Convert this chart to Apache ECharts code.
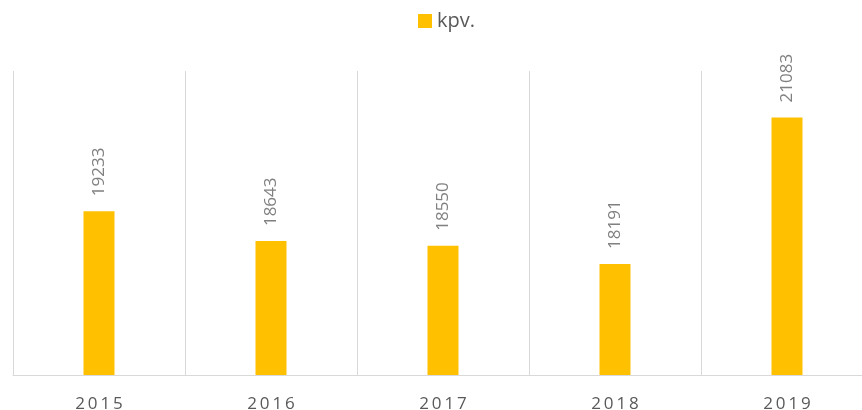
<!DOCTYPE html>
<html>
<head>
<meta charset="utf-8">
<script src="https://cdn.jsdelivr.net/npm/echarts@6/dist/echarts.min.js"></script>
<style>html,body{margin:0;padding:0;background:#fff;}#c{width:862px;height:410px;}</style>
</head>
<body>
<div id="c"></div>
<script>
const categories = ['2015', '2016', '2017', '2018', '2019'];
const values = [19233, 18643, 18550, 18191, 21083];
const seriesName = 'kpv.';

const chart = echarts.init(document.getElementById('c'));
chart.setOption({
  animation: false,
  legend: {
    top: 6,
    left: 413,
    itemWidth: 14,
    itemHeight: 14,
    itemGap: 5,
    icon: 'rect',
    textStyle: { fontSize: 20, color: '#595959', fontFamily: 'Open Sans' },
    data: [seriesName]
  },
  grid: { left: 13, width: 860, top: 71, height: 304, containLabel: false, outerBoundsMode: 'none' },
  xAxis: {
    type: 'category',
    data: categories,
    axisLine: { lineStyle: { color: '#d9d9d9', width: 1 } },
    axisTick: { show: false },
    splitLine: { show: true, lineStyle: { color: '#d9d9d9', width: 1 } },
    axisLabel: {
      fontSize: 17, color: '#595959', fontFamily: 'Open Sans', margin: 21,
      formatter: v => v.split('').join('\u2009')
    }
  },
  yAxis: {
    type: 'value', min: 16000, max: 22000, show: false,
    splitLine: { show: false }
  },
  series: [{
    name: seriesName,
    type: 'bar',
    data: values,
    barWidth: 31,
    itemStyle: { color: '#ffc000' },
    label: {
      show: true, position: 'top', rotate: 90, align: 'left', verticalAlign: 'middle',
      distance: 15, fontSize: 17, color: '#808080', fontFamily: 'Open Sans'
    }
  }]
});
</script>
</body>
</html>
